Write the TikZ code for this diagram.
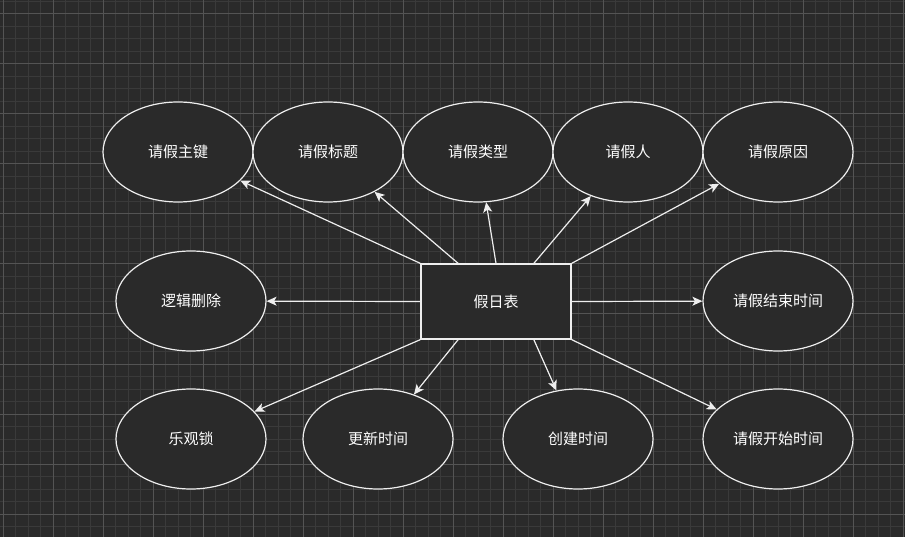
\documentclass[tikz,border=0pt]{standalone}
\usepackage{fontspec}
\setmainfont{Noto Sans CJK SC}
\usetikzlibrary{arrows.meta,shapes.geometric,calc}
\definecolor{bgc}{HTML}{2A2A2A}
\definecolor{gridminor}{HTML}{3A3A3A}
\definecolor{gridmajor}{HTML}{545454}
\definecolor{strokec}{HTML}{EEEEEE}
\tikzset{
  attr/.style={ellipse, draw=strokec, fill=bgc, line width=1.2pt, minimum width=150pt, minimum height=100pt, inner sep=0pt, text=white, font=\fontsize{15}{18}\selectfont},
  entity/.style={rectangle, draw=strokec, fill=bgc, line width=1.2pt, minimum width=150pt, minimum height=75pt, inner sep=0pt, text=white, font=\fontsize{15}{18}\selectfont},
  link/.style={draw=strokec, line width=1.2pt, -{Stealth[length=10pt,width=9pt,inset=2.5pt]}}
}
\begin{document}
\begin{tikzpicture}[x=1pt,y=-1pt]
\fill[bgc] (0,0) rectangle (905,537);
\useasboundingbox (0,0) rectangle (905,537);
% minor grid
\foreach \i in {0,...,72} {
  \draw[gridminor, line width=1pt] ({3+12.5*\i},0) -- ({3+12.5*\i},537);
}
\foreach \j in {0,...,43} {
  \draw[gridminor, line width=1pt] (0,{1.5+12.5*\j}) -- (905,{1.5+12.5*\j});
}
% major grid
\foreach \i in {0,...,18} {
  \draw[gridmajor, line width=1pt] ({3+50*\i},0) -- ({3+50*\i},537);
}
\foreach \j in {0,...,10} {
  \draw[gridmajor, line width=1pt] (0,{14+50*\j}) -- (905,{14+50*\j});
}
% nodes
\node[entity] (box) at (496,301.5) {假日表};
\node[attr] (e1) at (178,152) {请假主键};
\node[attr] (e2) at (328,152) {请假标题};
\node[attr] (e3) at (478,152) {请假类型};
\node[attr] (e4) at (628,152) {请假人};
\node[attr] (e5) at (778,152) {请假原因};
\node[attr] (m1) at (191,301) {逻辑删除};
\node[attr] (m2) at (778,301) {请假结束时间};
\node[attr] (b1) at (191,439) {乐观锁};
\node[attr] (b2) at (378,439) {更新时间};
\node[attr] (b3) at (578,439) {创建时间};
\node[attr] (b4) at (778,439) {请假开始时间};
% coordinates on box
\coordinate (tq1) at ($(box.north west)!0.25!(box.north east)$);
\coordinate (tq3) at ($(box.north west)!0.75!(box.north east)$);
\coordinate (bq1) at ($(box.south west)!0.25!(box.south east)$);
\coordinate (bq3) at ($(box.south west)!0.75!(box.south east)$);
% links
\draw[link] (box.north west) -- (e1);
\draw[link] (tq1) -- (e2);
\draw[link] (box.north) -- (e3);
\draw[link] (tq3) -- (e4);
\draw[link] (box.north east) -- (e5);
\draw[link] (box.west) -- (m1);
\draw[link] (box.east) -- (m2);
\draw[link] (box.south west) -- (b1);
\draw[link] (bq1) -- (b2);
\draw[link] (bq3) -- (b3);
\draw[link] (box.south east) -- (b4);
\end{tikzpicture}
\end{document}
